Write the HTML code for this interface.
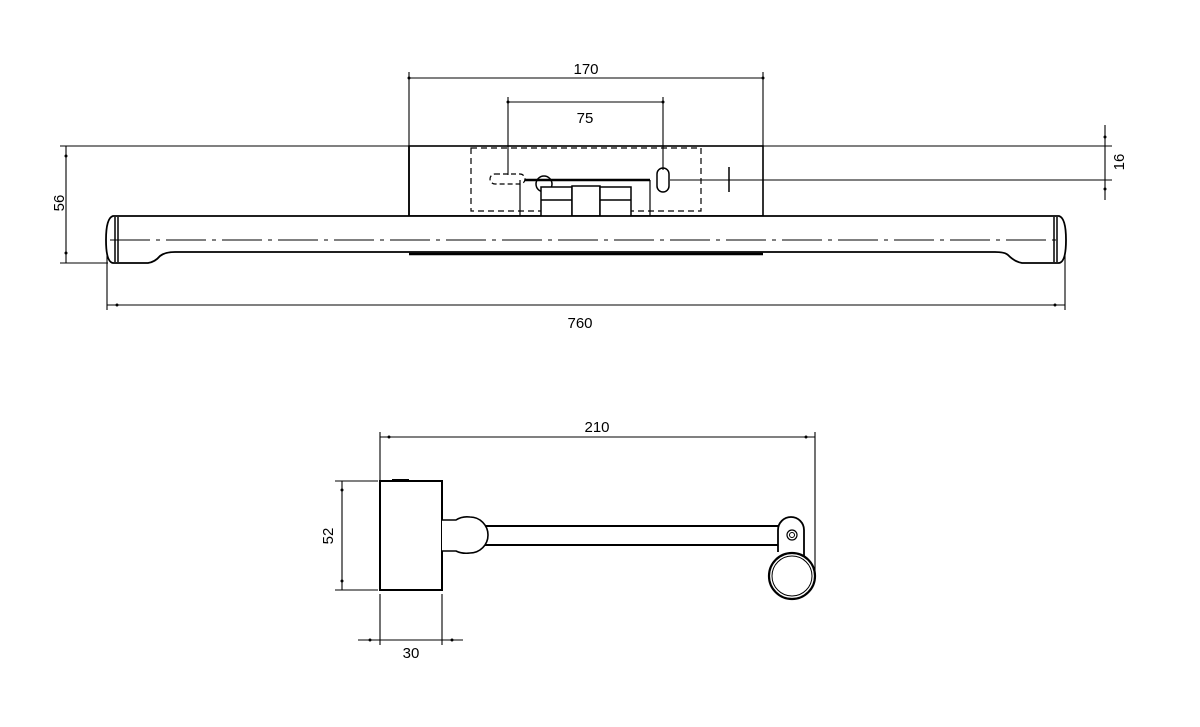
<!DOCTYPE html>
<html><head><meta charset="utf-8"><style>html,body{margin:0;padding:0;background:#fff}svg{display:block}text{font-family:"Liberation Sans",sans-serif;font-size:15px;fill:#000;stroke:none}</style></head>
<body>
<svg width="1200" height="727" viewBox="0 0 1200 727" xmlns="http://www.w3.org/2000/svg" fill="none" stroke="#000">
<g stroke-width="1.1">
<line x1="409" y1="72" x2="409" y2="146"/><line x1="763" y1="72" x2="763" y2="146"/>
<line x1="409" y1="78" x2="763" y2="78"/>
<line x1="508" y1="97" x2="508" y2="175"/><line x1="663" y1="97" x2="663" y2="170"/>
<line x1="508" y1="102" x2="663" y2="102"/>
<line x1="60" y1="146" x2="409" y2="146"/><line x1="763" y1="146" x2="1112" y2="146"/>
<line x1="60" y1="263" x2="108" y2="263"/>
<line x1="66" y1="146" x2="66" y2="263"/>
<line x1="107" y1="250" x2="107" y2="310"/><line x1="1065" y1="240" x2="1065" y2="310"/>
<line x1="107" y1="305" x2="1065" y2="305"/>
<line x1="1105" y1="125" x2="1105" y2="200"/>
<line x1="670" y1="180" x2="1112" y2="180"/>
</g>
<g fill="#000" stroke="none">
<circle cx="409" cy="78" r="1.5"/><circle cx="763" cy="78" r="1.5"/>
<circle cx="508" cy="102" r="1.5"/><circle cx="663" cy="102" r="1.5"/>
<circle cx="66" cy="156" r="1.5"/><circle cx="66" cy="253" r="1.5"/>
<circle cx="117" cy="305" r="1.5"/><circle cx="1055" cy="305" r="1.5"/>
<circle cx="1105" cy="137" r="1.5"/><circle cx="1105" cy="189" r="1.5"/>
</g>
<text x="586" y="74" text-anchor="middle">170</text>
<text x="585" y="123" text-anchor="middle">75</text>
<text x="580" y="328" text-anchor="middle">760</text>
<text transform="translate(64,203) rotate(-90)" text-anchor="middle">56</text>
<text transform="translate(1124,162) rotate(-90)" text-anchor="middle">16</text>
<rect x="409" y="146" width="354" height="70" stroke-width="1.6"/>
<rect x="471" y="148" width="230" height="63" stroke-width="1.2" stroke-dasharray="6,4"/>
<rect x="490" y="174" width="35" height="10" rx="5" stroke-width="1.2" stroke-dasharray="5,3"/>
<rect x="657" y="168" width="12" height="24" rx="6" stroke-width="1.5"/>
<circle cx="544" cy="184" r="8" stroke-width="1.5"/>
<line x1="525" y1="180" x2="650" y2="180" stroke-width="2.5"/>
<line x1="729" y1="167" x2="729" y2="192" stroke-width="1.5"/>
<line x1="520" y1="180" x2="520" y2="216" stroke-width="1.2"/>
<line x1="650" y1="180" x2="650" y2="216" stroke-width="1.2"/>
<g stroke-width="1.5" fill="#fff">
<rect x="541" y="187" width="31" height="38"/><line x1="541" y1="200" x2="572" y2="200"/>
<rect x="572" y="186" width="28" height="30"/>
<rect x="600" y="187" width="31" height="38"/><line x1="600" y1="200" x2="631" y2="200"/>
</g>
<line x1="572" y1="222" x2="600" y2="222" stroke-width="2"/>
<path d="M113 216 H1059 Q1066 218 1066 240 Q1066 262 1059 263 H1022 Q1015 262 1008 255 Q1005 252 995 252 H175 Q165 252 160 256 Q155 262 148 263 H113 Q106 262 106 240 Q106 218 113 216 Z" stroke-width="1.8" fill="#fff"/>
<line x1="115" y1="217" x2="115" y2="262" stroke-width="1.5"/><line x1="118" y1="217" x2="118" y2="262" stroke-width="1.5"/>
<line x1="1054" y1="217" x2="1054" y2="262" stroke-width="1.5"/><line x1="1057" y1="217" x2="1057" y2="262" stroke-width="1.5"/>
<line x1="110" y1="240" x2="1062" y2="240" stroke-width="1" stroke-dasharray="40,6,4,6"/>
<line x1="409" y1="254" x2="763" y2="254" stroke-width="2.5"/>
<line x1="409" y1="146" x2="409" y2="216" stroke-width="1.6"/>
<g stroke-width="1.1">
<line x1="380" y1="432" x2="380" y2="480"/><line x1="815" y1="432" x2="815" y2="578"/>
<line x1="380" y1="437" x2="815" y2="437"/>
<line x1="335" y1="481" x2="378" y2="481"/><line x1="335" y1="590" x2="378" y2="590"/>
<line x1="342" y1="481" x2="342" y2="590"/>
<line x1="380" y1="594" x2="380" y2="645"/><line x1="442" y1="594" x2="442" y2="645"/>
<line x1="358" y1="640" x2="463" y2="640"/>
</g>
<g fill="#000" stroke="none">
<circle cx="389" cy="437" r="1.5"/><circle cx="806" cy="437" r="1.5"/>
<circle cx="342" cy="490" r="1.5"/><circle cx="342" cy="581" r="1.5"/>
<circle cx="370" cy="640" r="1.5"/><circle cx="452" cy="640" r="1.5"/>
</g>
<text x="597" y="432" text-anchor="middle">210</text>
<text x="411" y="658" text-anchor="middle">30</text>
<text transform="translate(333,536) rotate(-90)" text-anchor="middle">52</text>
<rect x="380" y="481" width="62" height="109" stroke-width="2"/>
<line x1="392" y1="480" x2="409" y2="480" stroke-width="2"/>
<path d="M442 520 H456 Q462 516 470 517 A18 18 0 0 1 470 553 Q462 554 456 551 H442" stroke-width="1.6" fill="#fff"/>
<path d="M485 526 H780 M485 545 H778" stroke-width="2"/>
<path d="M778 552 V530 A13 13 0 0 1 804 530 V560" stroke-width="1.8" fill="#fff"/>
<circle cx="792" cy="535" r="5" stroke-width="1.2"/><circle cx="792" cy="535" r="2.5" stroke-width="1"/>
<circle cx="792" cy="576" r="23" stroke-width="2.2" fill="#fff"/>
<circle cx="792" cy="576" r="20" stroke-width="1"/>
</svg>
</body></html>
